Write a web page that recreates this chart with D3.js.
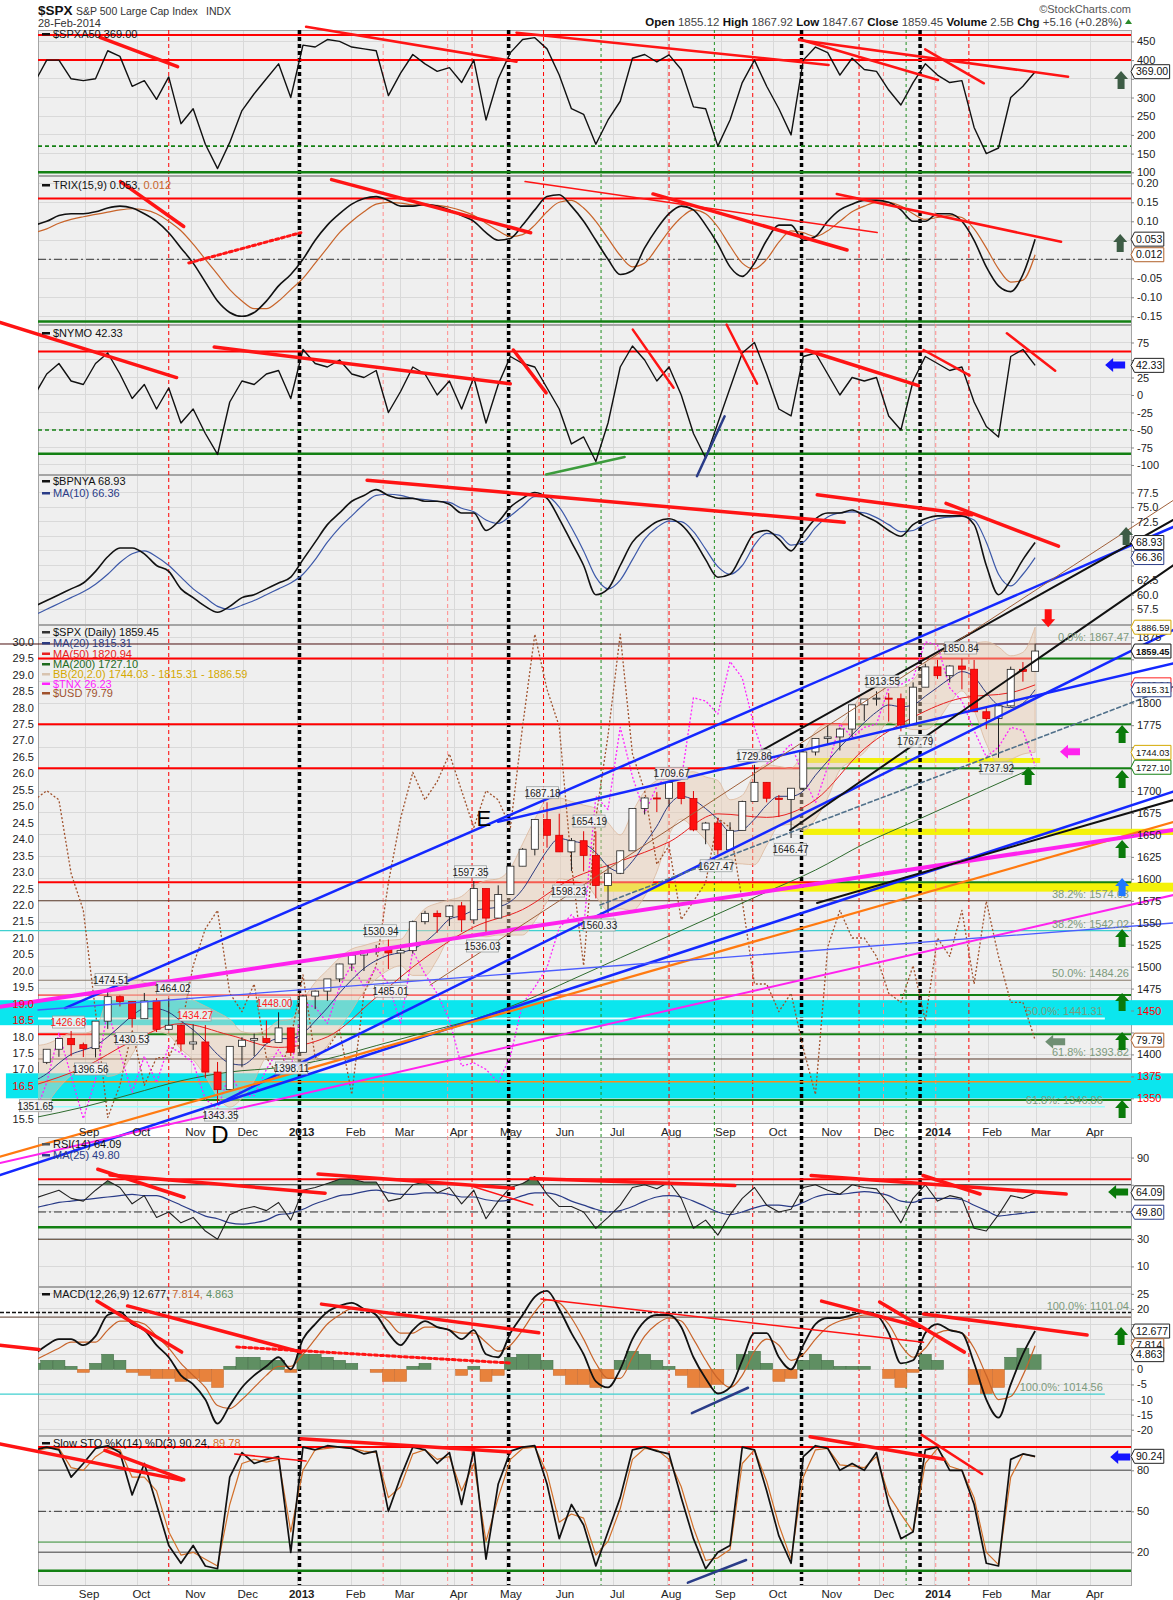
<!DOCTYPE html>
<html>
<head>
<meta charset="utf-8">
<script src="https://cdn.jsdelivr.net/npm/d3@7"></script>
<style>
  body { margin: 0; background: #fff; }
  svg text { font-family: "Liberation Sans", Arial, sans-serif; }
</style>
</head>
<body>
<svg id="drawing_region"></svg>
<script>
// ---------------- data (weekly readings, Aug 3 2012 .. Feb 28 2014) ----------------
const weekEnds = d3.timeFriday.range(new Date(2012, 7, 3), new Date(2014, 2, 1));

const spxa50 = [340,400,400,350,345,350,425,410,330,345,295,355,230,270,175,110,180,265,310,350,
  390,300,440,435,455,450,435,430,425,305,365,415,390,370,380,340,400,240,350,420,
  455,460,430,360,270,255,175,240,290,405,415,395,414,375,275,270,170,240,340,400,
  330,270,200,400,435,420,360,405,375,370,320,280,340,390,360,340,345,220,150,165,300,330,369];

const trix = [0.09,0.10,0.115,0.12,0.12,0.125,0.135,0.14,0.135,0.12,0.10,0.07,0.03,-0.01,-0.06,-0.11,-0.14,-0.15,-0.14,-0.11,
  -0.07,-0.04,0.0,0.05,0.09,0.12,0.145,0.16,0.165,0.155,0.14,0.14,0.145,0.14,0.13,0.115,0.10,0.07,0.05,0.055,
  0.09,0.13,0.165,0.17,0.14,0.10,0.05,0.0,-0.04,-0.03,0.03,0.08,0.12,0.14,0.13,0.09,0.04,-0.02,-0.045,-0.01,
  0.05,0.09,0.09,0.05,0.06,0.10,0.13,0.145,0.155,0.155,0.15,0.13,0.10,0.10,0.12,0.12,0.10,0.05,-0.02,-0.07,-0.085,-0.04,0.053];
const trixSignal = [0.07,0.08,0.095,0.105,0.112,0.118,0.124,0.13,0.133,0.13,0.12,0.10,0.075,0.04,0.0,-0.04,-0.08,-0.11,-0.13,-0.13,
  -0.11,-0.08,-0.05,-0.01,0.03,0.07,0.10,0.125,0.145,0.15,0.148,0.143,0.142,0.142,0.137,0.128,0.115,0.095,0.075,0.06,
  0.065,0.09,0.125,0.15,0.155,0.135,0.10,0.055,0.01,-0.02,-0.01,0.03,0.075,0.11,0.13,0.12,0.085,0.035,-0.01,-0.025,
  0.0,0.045,0.075,0.07,0.06,0.075,0.10,0.125,0.14,0.15,0.15,0.14,0.12,0.105,0.11,0.115,0.11,0.08,0.03,-0.025,-0.06,-0.055,0.012];

const nymo = [0,30,45,20,15,45,60,30,-5,15,-20,10,-40,-20,-55,-85,-10,20,15,30,
  35,-5,65,45,40,50,30,25,35,-25,5,40,30,0,20,-20,25,-40,15,55,
  45,40,10,-20,-70,-60,-95,-40,40,70,50,20,40,0,-55,-90,-40,10,60,75,
  30,-20,-30,55,60,30,0,25,20,25,-30,-50,20,55,45,35,40,-10,-45,-60,55,65,42.33];

const bpnya = [58,59,60,61,62,64,66.5,68,68,67,65,64,61,59.5,58,57,58,59.5,60,61,
  62,63,66,69,72,74,76,77,78,77,76.5,76.5,76,76,75.5,74,74,71,72.5,75,
  76.5,77.5,76.5,73,69,65,60,61,65,69,71,72.5,73,72,69.5,66,63,63.5,67,70.5,
  71,69.5,67.5,70.5,73,74,74,74.5,73.5,72.5,71,70,72,73,73.5,73.5,73.5,72,65,60,62.5,66,68.93];
const bpnyaMa = [56.5,57.5,58.5,59.5,60.5,61.8,63.5,65.5,67,67.5,66.5,65,63,61,59.5,58,57.5,58.2,59,60,
  61,62,63.5,66,69,71.5,73.5,75.5,77,77.2,77,76.5,76.3,76,75.8,74.8,74.2,72.8,72.2,73.5,
  75.2,76.8,76.8,75,71.5,67.5,63,61,62.5,66,69.5,71.5,72.6,72.5,70.8,67.8,64.8,63.5,65,68.5,
  70.5,70.2,68.5,69,71.5,73.3,74,74.2,74,73.2,72,70.8,71,72.2,73,73.3,73.4,72.8,69,63.5,61.5,63.5,66.36];

const spxOpen = [1379.3,1391.0,1405.9,1418.2,1411.1,1406.6,1437.9,1465.8,1460.2,1440.7,
  1460.9,1428.6,1433.2,1411.9,1414.2,1379.9,1359.9,1409.2,1416.2,1418.1,
  1413.6,1430.2,1402.4,1466.5,1472.1,1486.0,1503.0,1513.2,1517.9,1519.8,
  1515.6,1518.2,1551.2,1560.7,1556.9,1569.2,1553.3,1588.9,1555.3,1582.2,
  1614.4,1633.7,1667.5,1649.6,1630.7,1643.4,1626.7,1592.4,1606.3,1631.9,
  1680.2,1692.1,1691.7,1709.7,1691.4,1655.8,1663.5,1633.0,1655.2,1688.0,
  1709.9,1691.8,1690.5,1703.2,1744.5,1759.8,1761.6,1770.6,1798.2,1804.8,
  1805.8,1805.1,1775.3,1818.3,1841.4,1831.4,1842.4,1838.7,1790.3,1782.6,1797.0,1838.6,1836.3];
const spxHigh = [1394.2,1405.9,1418.7,1426.7,1413.5,1437.9,1474.5,1467.1,1460.2,1470.0,
  1464.0,1464.0,1434.0,1434.3,1433.4,1391.4,1409.2,1419.7,1423.7,1438.6,
  1448.0,1430.7,1467.9,1472.8,1485.2,1503.3,1514.4,1518.3,1524.7,1530.9,
  1525.3,1552.5,1563.6,1564.0,1570.3,1573.7,1597.4,1589.0,1592.6,1618.5,
  1635.0,1667.5,1687.2,1674.2,1646.5,1654.2,1654.2,1615.9,1632.1,1680.2,
  1693.1,1698.8,1709.7,1709.7,1700.0,1664.8,1669.5,1664.4,1689.0,1729.9,
  1710.1,1695.5,1703.4,1745.3,1759.8,1775.2,1772.3,1798.2,1804.8,1813.6,
  1811.5,1811.0,1823.8,1844.9,1849.4,1843.2,1850.8,1849.3,1795.0,1798.0,1841.7,1846.9,1867.9];
const spxLow = [1354.7,1389.0,1397.3,1398.0,1397.0,1396.6,1429.1,1454.7,1430.5,1440.7,
  1425.5,1427.2,1403.3,1405.1,1373.0,1343.4,1359.9,1385.4,1398.1,1412.7,
  1413.6,1398.1,1402.4,1451.6,1461.0,1482.3,1495.0,1495.0,1513.5,1497.3,
  1485.0,1514.8,1548.2,1538.6,1546.2,1539.5,1548.6,1536.0,1555.3,1582.2,
  1614.4,1626.7,1635.5,1630.5,1608.9,1608.5,1577.7,1560.3,1605.4,1631.9,
  1673.3,1676.0,1681.9,1684.9,1654.2,1639.4,1627.5,1633.0,1655.2,1688.0,
  1687.1,1670.4,1646.5,1700.7,1740.5,1752.7,1746.2,1761.6,1780.0,1797.3,
  1779.1,1768.0,1775.3,1818.3,1827.7,1823.7,1815.8,1790.3,1770.5,1737.9,1796.0,1824.6,1836.3];
const spxClose = [1391.0,1405.9,1418.2,1411.1,1406.6,1437.9,1465.8,1460.2,1440.7,1460.9,
  1428.6,1433.2,1411.9,1414.2,1379.9,1359.9,1409.2,1416.2,1418.1,1413.6,
  1430.2,1402.4,1466.5,1472.1,1486.0,1503.0,1513.2,1517.9,1519.8,1515.6,
  1518.2,1551.2,1560.7,1556.9,1569.2,1553.3,1588.9,1555.3,1582.2,1614.4,
  1633.7,1667.5,1649.6,1630.7,1643.4,1626.7,1592.4,1606.3,1631.9,1680.2,
  1692.1,1691.7,1709.7,1691.4,1655.8,1663.5,1633.0,1655.2,1688.0,1709.9,
  1691.8,1690.5,1703.2,1744.5,1759.8,1761.6,1770.6,1798.2,1804.8,1805.8,
  1805.1,1775.3,1818.3,1841.4,1831.4,1842.4,1838.7,1790.3,1782.6,1797.0,1838.6,1836.3,1859.45];

const ma20 = [1370,1378,1390,1400,1405,1410,1420,1432,1444,1452,1452,1448,1438,1428,1415,1400,1390,1388,1397,1412,
  1418,1418,1424,1438,1453,1470,1485,1498,1507,1513,1516,1520,1528,1540,1554,1558,1564,1566,1568,1574,
  1588,1610,1632,1646,1643,1640,1630,1614,1608,1620,1640,1660,1684,1694,1690,1680,1668,1654,1656,1668,
  1684,1694,1694,1700,1718,1734,1750,1764,1778,1790,1798,1796,1798,1808,1818,1828,1836,1830,1812,1798,1795,1800,1815.31];
const bbUpper = [1410,1412,1418,1424,1424,1430,1465,1485,1488,1482,1478,1474,1470,1462,1455,1448,1440,1426,1424,1428,
  1438,1440,1462,1482,1496,1510,1520,1524,1528,1530,1531,1550,1566,1572,1576,1580,1592,1598,1600,1612,
  1640,1668,1690,1692,1688,1684,1680,1664,1650,1676,1700,1712,1718,1720,1722,1716,1712,1690,1695,1720,
  1730,1728,1726,1745,1768,1776,1776,1794,1812,1818,1818,1818,1826,1846,1856,1856,1858,1868,1870,1864,1854,1858,1886.59];
const bbLower = [1330,1344,1362,1376,1386,1390,1375,1379,1400,1422,1426,1422,1406,1394,1375,1352,1340,1350,1370,1396,
  1398,1396,1386,1394,1410,1430,1450,1472,1486,1496,1501,1490,1490,1508,1532,1536,1536,1534,1536,1536,
  1536,1552,1574,1600,1598,1596,1580,1564,1566,1564,1580,1608,1650,1668,1658,1644,1624,1618,1617,1616,
  1638,1660,1662,1655,1668,1692,1724,1734,1744,1762,1778,1774,1770,1770,1780,1800,1814,1792,1754,1732,1736,1742,1744.03];
// slow averages, read every 4th week
const maWeekIdx = [0,4,8,12,16,20,24,28,32,36,40,44,48,52,56,60,64,68,72,76,80,82];
const ma50 = [1365,1385,1415,1435,1422,1408,1420,1465,1510,1545,1565,1600,1620,1642,1674,1670,1690,1748,1784,1806,1812,1820.94];
const ma200 = [1328,1340,1355,1370,1380,1385,1395,1410,1425,1440,1460,1485,1510,1535,1560,1585,1610,1640,1665,1690,1715,1727.10];

const tnx = [15.6,16.6,18.1,16.8,15.5,16.7,18.8,17.5,16.3,17.4,16.6,17.7,17.5,17.2,16.1,15.8,16.9,16.2,16.2,17.0,
  17.6,17.0,19.0,18.9,18.4,19.5,20.2,19.5,20.1,19.6,18.4,20.6,19.9,19.3,18.5,17.1,17.2,17.0,16.6,17.4,
  19.0,19.5,20.1,21.3,21.7,21.3,25.3,24.9,27.4,25.9,24.8,25.6,26.0,25.8,28.3,28.2,27.8,29.4,28.9,27.4,
  26.3,26.5,26.9,25.9,25.1,26.2,27.5,27.1,27.4,27.5,28.6,28.7,28.9,30.0,29.9,28.6,28.2,27.3,26.5,26.8,27.4,27.3,26.23];
const usd = [82.4,82.5,82.4,81.6,81.2,80.1,78.95,79.3,79.9,79.3,79.6,79.6,79.9,80.6,81.0,81.2,80.3,80.1,80.4,79.6,
  79.4,79.8,80.5,79.6,79.7,79.9,79.2,80.3,80.6,81.5,82.2,82.7,82.4,82.6,82.9,82.5,82.1,82.5,82.4,82.1,
  83.2,84.2,83.6,83.2,81.7,80.6,82.2,83.1,84.2,82.9,82.5,81.7,81.9,81.1,81.3,81.5,82.2,82.1,81.3,80.4,
  80.4,80.1,80.3,79.7,79.2,80.8,81.2,80.9,80.9,80.7,80.3,80.2,80.6,80.0,80.9,80.7,81.2,80.4,81.3,80.7,80.2,80.2,79.79];

const rsi = [60,63,66,60,58,66,73,68,56,62,46,50,42,46,36,30,48,52,54,51,
  57,44,66,68,71,74,74,72,72,58,60,70,72,64,68,56,66,45,58,68,
  71,76,63,54,54,50,38,46,55,68,70,67,72,60,38,44,33,48,60,68,
  55,50,52,68,70,66,63,70,68,67,56,42,60,70,58,62,60,38,36,48,62,60,64.09];
const rsiMa = [53,55,57,58,59,60,61,62,63,62,62,59,55,51,47,45,42,41,42,44,
  48,49,52,56,59,62,63,65,66,64,63,63,64,64,63,61,61,59,58,59,
  62,64,64,62,58,55,52,50,51,54,58,61,62,61,58,54,50,48,50,53,
  55,55,54,57,61,63,63,64,65,64,62,58,57,60,60,60,59,55,51,47,48,49,49.8];

const macd = [5,8,10,10,8,11,18,19,15,13,8,4,-2,-5,-10,-18,-12,-6,-2,1,
  4,0,10,15,19,21,22,20,18,12,8,13,16,14,13,10,13,5,4,12,
  18,24,26,20,12,5,-4,-6,0,10,16,18,18,14,4,-3,-8,-6,3,12,
  12,4,0,8,15,17,17,18,19,18,12,2,3,12,15,13,12,2,-10,-16,-5,5,12.677];
const macdSignal = [3,5,7,9,9,9,13,16,16,15,11,7,2,-2,-6,-12,-13,-10,-6,-2,
  1,1,5,10,15,18,20,20,19,16,12,12,14,14,13,12,12,9,6,8,
  13,19,23,22,17,10,2,-3,-3,4,11,15,17,16,10,3,-3,-6,-2,6,
  10,8,3,5,10,14,16,17,18,18,15,8,4,7,12,13,12,7,-2,-10,-9,-2,7.814];
const macdHist = [2,3,3,1,-1,2,5,3,-1,-2,-3,-3,-4,-3,-4,-6,1,4,4,3,
  3,-1,5,5,4,3,2,0,-1,-4,-4,1,2,0,0,-2,1,-4,-2,4,
  5,5,3,-2,-5,-5,-6,-3,3,6,5,3,1,-2,-6,-6,-5,0,5,6,
  2,-4,-3,3,5,3,1,1,1,0,-3,-6,-1,5,3,0,0,-5,-8,-6,4,7,4.863];

const stoK = [95,97,95,75,85,96,98,93,62,85,55,25,12,25,10,8,75,93,85,88,
  90,20,97,95,98,97,96,92,94,50,75,97,95,85,93,55,95,15,70,94,
  97,98,70,30,55,40,10,35,60,95,97,94,92,60,30,8,20,25,97,95,
  65,32,12,90,98,96,80,85,80,93,55,30,35,95,97,80,80,55,12,10,88,92,90.24];
const stoD = [94,96,96,82,80,90,96,95,75,75,65,35,18,20,15,10,55,85,88,86,
  88,35,80,95,96,97,96,94,93,60,68,92,95,88,90,65,85,28,60,88,
  96,97,78,42,48,45,18,28,52,88,96,95,88,68,38,14,16,22,85,95,
  72,40,15,75,95,96,84,83,82,90,62,48,35,85,96,83,80,60,20,11,75,92,89.78];

// tick labels
const a50Ticks = [100,150,200,250,300,350,400,450];
const trixTicks = [-0.15,-0.10,-0.05,0,0.05,0.10,0.15,0.20];
const nymoTicks = [-100,-75,-50,-25,0,25,50,75];
const bpTicks = [57.5,60,62.5,65,67.5,70,72.5,75,77.5];
const spxTicks = d3.range(1350, 1876, 25);
const tnxTicks = d3.range(15.5, 30.01, 0.5);
const rsiTicks = [10,30,50,70,90];
const macdTicks = [-20,-15,-10,-5,0,5,10,15,20,25];
const stoTicks = [20,50,80];
const monthLabels = ["Sep","Oct","Nov","Dec","2013","Feb","Mar","Apr","May","Jun","Jul","Aug",
  "Sep","Oct","Nov","Dec","2014","Feb","Mar","Apr"];

// vertical markers
const eventDates = ["2012-10-19","2013-01-02","2013-02-19","2013-03-28","2013-04-11","2013-05-02","2013-05-22",
  "2013-06-24","2013-08-02","2013-08-28","2013-09-19","2013-10-17","2013-11-19","2013-12-03","2013-12-16",
  "2013-12-24","2014-01-02","2014-01-21"];
const eventKinds = ["red","black","lightred","lightred","red","black","red","green","red","green","red",
  "black","red","lightred","green","black","lightred","red"];

// drawn trend lines: [kind, day0, value0, day1, value1]  (day = days since 2012-08-05)
const a50Trends = [["redThick",35.6,461,80.1,382.4],["red",153.8,489,274.5,395.7],["red",274.5,473.3,453.5,386.9],
  ["red",436.6,455.6,516.3,346.8],["red",436.6,453.7,590.9,355.6],["red",508.9,428.9,542.6,338]];
const trixTrends = [["redThick",47.3,0.2045,83.6,0.0863],["redDot",86.5,-0.0097,150.8,0.07],["redThick",168.4,0.2097,282.6,0.07],
  ["redThick",352.8,0.172,464.1,0.0245],["redThin",279.4,0.2045,481.4,0.0703],["red",458.2,0.172,586.9,0.046]];
const nymoTrends = [["redThick",-21.8,103.7,79.5,24.9],["redThick",101.1,68.6,270.9,16.1],["redThick",272.7,64.3,291.5,3],
  ["red",341.2,93.4,364.6,10.3],["red",395,100.7,412.5,16.1],["redThick",440.6,64.3,505.1,13.3],
  ["red",508,64.3,534.4,27.9],["red",555.8,88.1,583.5,34.7],["green",291.5,-113.6,336.5,-88.7],["navy",378,-116,393.9,-30.4]];
const bpTrends = [["redThick",188.8,79.6,462.5,72.4],["redThick",447,77.1,535.6,73.7],["redThick",520.9,75.65,585.4,68.3]];
const spxTrends = [["blue",15.5,1452.8,651.2,2000.7],["blue",263.9,1665,651.2,1845.4],["blue",104.4,1344.6,651.2,1883.4],
  ["blue",-21.8,1262.6,651.2,1699.2],["orange",-21.8,1283.5,651.2,1664.7],["magenta",-21.8,1276.3,651.2,1581.5],
  ["magentaThick",-21.8,1454.3,651.2,1655.6],["black",408.5,1738.7,651.2,2008.7],["black",431.4,1655.3,651.2,1957.1],
  ["black",446.9,1572.4,651.2,1689.7],["brown",224.9,1479,651.2,2031],["steelDash",322.4,1570.2,651.2,1818.8],
  ["blueThin",0,1450.6,651.2,1549.7]];
const rsiTrends = [["redThick",34.3,81.4,83.8,60.8],["redThick",41.3,77.2,164.7,63.8],["redThick",160.6,77.9,272.7,67.4],
  ["redThin",248.6,69.1,283.8,55.1],["redThick",282.6,74.6,399.7,69.4],["redThick",443.5,76.8,589.8,63.2],
  ["redThick",507.7,76.8,540.4,63.2]];
const macdTrends = [["redThick",-21.8,8.0,0.5,6.6],["redThick",33.8,22.6,82.4,5.7],["redThick",51.4,21,150.9,5.7],
  ["redDot",114,7.4,270.9,2.1],["redThick",162.6,21.6,287.3,12.1],["redThin",288.5,23.3,508,9.0],
  ["redThick",449.5,22.6,505.1,14.2],["redThick",482.8,22.3,531.4,5.7],["redThick",508,18.3,601.8,11.4],
  ["navy",375.1,-14.5,407.3,-6.1]];
const stoTrends = [["redThick",-21.8,99.2,82.4,72.8],["redThick",38.4,94.6,83.6,73.2],["redThick",150.9,103,270.9,93.4],
  ["redThin",112.8,91.9,153.8,86.8],["redThick",442.9,104.6,519.6,88.1],["red",506.9,105.9,541.6,77.3],
  ["navy",372.8,-2.2,406.2,14.4]];

// horizontal levels: [value, kind, day0, day1]
const a50Levels = [[467,"hRed"],[400,"hRed"],[170,"hGreenDash"],[100,"hGreenThick"]];
const trixLevels = [[0.16,"hRed"],[0,"hDashDot"],[-0.164,"hGreenThick"]];
const nymoLevels = [[62,"hRed"],[-50,"hGreenDash"],[-84,"hGreenThick"]];
const spxLevels = [[1867.47,"hMaroon",-21.8,627],[1851,"hRed",0,573.7],[1851,"hGreen",573.7,627],
  [1776,"hRed",0,468.2],[1776,"hGreen",468.2,627],[1726,"hRed",0,441],[1726,"hGreen",441,627],
  [1596,"hRed",0,454.4],[1596,"hGreen",454.4,627],[1575,"hBrown",0,627],[1541,"hCyan",-21.8,627],
  [1484.5,"hGrayBrown",0,627],[1467.6,"hRedThin",0,494.5],[1467.6,"hGreen",494.5,627],[1441,"hWhite",0,612],
  [1423,"hRed",0,34.4],[1423,"hGreen",34.4,627],[1394.8,"hBrown",0,627],[1369,"hOrange",0,627],
  [1348,"hGreen",0,627],[1340.4,"hLightCyan",0,612]];
const rsiLevels = [[74,"hRed"],[70,"hBlack"],[50,"hDashDot"],[38.7,"hGreenThick"],[30,"hBlack"]];
const macdLevels = [[18.8,"hBlackDash",-21.8,627],[17.3,"hBrown",-21.8,627],[-8.2,"hCyan",-21.8,612]];
const stoLevels = [[97,"hRed"],[80,"hGray"],[50,"hDashDot"],[27.5,"hGreenThin"],[20,"hGray"],[6.5,"hGreenThick"]];

// shaded zones in the price panel: [low, high, day0, day1]
const cyanZones = [[1433.3,1461.8,-21.8,651.2],[1350,1378.5,-18.4,651.2]];
const yellowZones = [[1732,1737.6,438.9,574.9],[1650,1657,438.9,651.2],[1585.4,1595.6,324.7,651.2]];

// fibonacci notes: [day (right end), value, text]
const spxFibNotes = [[627,1867.47,"0.0%: 1867.47"],[627,1575,"38.2%: 1574.63"],[627,1541,"38.2%: 1542.02"],
  [627,1484.5,"50.0%: 1484.26"],[612,1441,"50.0%: 1441.31"],[627,1394.8,"61.8%: 1393.82"],[612,1340.4,"61.8%: 1346.86"]];
const macdFibNotes = [[627,18.8,"100.0%: 1101.04"],[612,-8.2,"100.0%: 1014.56"]];

// price annotations: [day, price, text, kind]
const priceNotes = [[41.9,1485.3,"1474.51","box"],[77.2,1475.6,"1464.02","box"],[17.5,1436.9,"1426.68","red"],
  [90.1,1444.9,"1434.27","red"],[53.6,1418.1,"1430.53","box"],[30.1,1383.4,"1396.56","box"],[-1.4,1341.6,"1351.65","box"],
  [104.7,1331,"1343.35","box"],[135.7,1458.5,"1448.00","red"],[145.4,1384.5,"1398.11","box"],[202.2,1471.9,"1485.01","box"],
  [196.5,1540.9,"1530.94","box"],[255,1523.5,"1536.03","box"],[248.1,1608.1,"1597.35","box"],[304.4,1586.1,"1598.23","box"],
  [321.9,1547.4,"1560.33","box"],[289.4,1698.1,"1687.18","box"],[316.1,1665.8,"1654.19","box"],[363.5,1720.2,"1709.67","box"],
  [410.8,1740.2,"1729.86","box"],[389,1614.9,"1627.47","box"],[431.7,1633.6,"1646.47","box"],[484.2,1825,"1813.55","box"],
  [503.2,1756.6,"1767.79","box"],[529.3,1862.9,"1850.84","box"],[549.6,1726.2,"1737.92","box"]];

// arrows: [panel, day, value, kind]
const arrowMarks = [["a50",621.3,346.8,"dkGreenUp"],["trix",620.8,0.043,"dkGreenUp"],["nymo",617.9,42.9,"blueLeft"],
  ["bp",624.2,70.05,"dkGreenUp"],["spx",579.5,1896.9,"redDown"],["spx",621.9,1764.9,"greenUp"],["spx",621.9,1713.7,"greenUp"],
  ["spx",621.9,1633.9,"greenUp"],["spx",621.9,1590.8,"blueUp"],["spx",621.9,1532.5,"greenUp"],["spx",621.9,1459.7,"greenUp"],
  ["spx",621.9,1415.3,"greenUp"],["spx",621.9,1337.8,"greenUp"],["spx",568,1717.1,"greenUp"],["spx",592,1744.8,"magentaLeft"],
  ["spx",583.5,1414.5,"grayLeft"],["rsi",619.6,64.7,"greenLeft"],["macd",621.3,11.02,"greenUp"],["sto",620.8,89.8,"blueLeft"]];

// last-value tags on the right axis: [panel, value, text, kind]
const valueTags = [["a50",369,"369.00","black"],["trix",0.053,"0.053","black"],["trix",0.012,"0.012","brown"],
  ["nymo",42.33,"42.33","black"],["bp",68.93,"68.93","black"],["bp",66.36,"66.36","navy"],
  ["spx",1886.59,"1886.59","gold"],["spx",1820.94,"1820.94","red"],["spx",1815.31,"1815.31","navy"],
  ["spx",1744.03,"1744.03","gold"],["spx",1727.10,"1727.10","green"],["spx",1859.45,"1859.45","bold"],
  ["rsi",64.09,"64.09","black"],["rsi",49.80,"49.80","navy"],["macd",12.677,"12.677","black"],
  ["macd",7.814,"7.814","brown"],["macd",4.863,"4.863","black"],["sto",90.24,"90.24","black"]];

// ---------------- drawing ----------------
const W = 1173, H = 1600, X0 = 38, X1 = 1131;
const startDay = new Date(2012, 7, 5);
const parse = d3.timeParse("%Y-%m-%d");
const dayOf = d => d3.timeDay.count(startDay, d);
const x = d3.scaleLinear().domain([0, 627]).range([X0, X1]);
const wDay = weekEnds.map(dayOf);
const maDay = maWeekIdx.map(i => wDay[i]);

const panels = {
  a50:  {top: 30,   bottom: 175,  domain: [92.8, 480.5],     ticks: a50Ticks,  fmt: d => String(d)},
  trix: {top: 176,  bottom: 324,  domain: [-0.1703, 0.2192], ticks: trixTicks, fmt: d => d.toFixed(2)},
  nymo: {top: 325,  bottom: 474,  domain: [-112.9, 100],     ticks: nymoTicks, fmt: d => String(d)},
  bp:   {top: 475,  bottom: 624,  domain: [54.98, 80.5],     ticks: bpTicks,   fmt: d => d.toFixed(1)},
  spx:  {top: 625,  bottom: 1123, domain: [1321.9, 1889.1],  ticks: spxTicks,  fmt: d => String(d)},
  rsi:  {top: 1137, bottom: 1286, domain: [-4.4, 105.1],     ticks: rsiTicks,  fmt: d => String(d)},
  macd: {top: 1287, bottom: 1435, domain: [-21.75, 27.27],   ticks: macdTicks, fmt: d => String(d)},
  sto:  {top: 1436, bottom: 1585, domain: [-3.9, 105.1],     ticks: stoTicks,  fmt: d => String(d)}
};
const tnxY = d3.scaleLinear().domain([15.37, 30.51]).range([1123, 625]);
const usdY = d3.scaleLinear().domain([78.89, 84.30]).range([1123, 625]);

const styles = {
  redThick: {c: "#ff1414", w: 3.5}, red: {c: "#ff1414", w: 2.5}, redThin: {c: "#ff1414", w: 1.5},
  redDot: {c: "#ff1414", w: 3, d: "3,3"}, blue: {c: "#1428ff", w: 2.5}, blueThin: {c: "#4a5cff", w: 1.3},
  navy: {c: "#2a3c88", w: 2.5}, green: {c: "#3c9c3c", w: 2.5}, black: {c: "#111", w: 2},
  orange: {c: "#ff7a10", w: 2.2}, magenta: {c: "#ff22ee", w: 2}, magentaThick: {c: "#ff22ee", w: 4},
  brown: {c: "#a0603a", w: 1}, steelDash: {c: "#50708a", w: 1.6, d: "4,3"},
  hRed: {c: "#ff0000", w: 2}, hRedThin: {c: "#ff0000", w: 1}, hGreen: {c: "#138013", w: 2},
  hGreenThick: {c: "#138013", w: 2.5}, hGreenThin: {c: "#2e8b2e", w: 1}, hGreenDash: {c: "#138013", w: 1.6, d: "4,3"},
  hDashDot: {c: "#333", w: 1, d: "8,3,2,3"}, hBlack: {c: "#222", w: 1}, hGray: {c: "#777", w: 1.5},
  hMaroon: {c: "#4a1010", w: 1}, hBrown: {c: "#5a3a2a", w: 1}, hCyan: {c: "#40d0d0", w: 1.2},
  hGrayBrown: {c: "#8a7a6a", w: 1}, hWhite: {c: "#e8ffff", w: 2}, hOrange: {c: "#ff8c1a", w: 1.5},
  hLightCyan: {c: "#99ffff", w: 1.5}, hBlackDash: {c: "#111", w: 1.5, d: "4,2"}
};
const eventStyles = {
  red: {c: "#ff0000", w: 1, d: "4,3"}, lightred: {c: "#ff8a8a", w: 1, d: "4,3"},
  green: {c: "#1f8f1f", w: 1, d: "3,3"}, black: {c: "#000", w: 3.5, d: "4,3"}
};
const tagColors = {black: "#222", brown: "#b0602a", navy: "#2a3c88", gold: "#d4a800", red: "#ff2020", green: "#138013", bold: "#111"};
const arrowColors = {dkGreenUp: "#3d5c45", greenUp: "#0a7a0a", blueUp: "#1e78ff", redDown: "#ff1010",
  blueLeft: "#1414ff", greenLeft: "#0a7a0a", magentaLeft: "#ff22ee", grayLeft: "#6f8f73"};

const svg = d3.select("#drawing_region").attr("width", W).attr("height", H);
const defs = svg.append("defs");
const layer = {};
["bg", "zones", "events", "levels", "series", "trends", "labels"].forEach(k => layer[k] = svg.append("g"));

const monthStarts = d3.timeMonth.range(new Date(2012, 8, 1), new Date(2014, 4, 1));

// panels: background, grid, clip
Object.entries(panels).forEach(([id, p]) => {
  p.y = d3.scaleLinear().domain(p.domain).range([p.bottom, p.top]);
  defs.append("clipPath").attr("id", "clip-" + id).append("rect")
    .attr("x", X0).attr("y", p.top).attr("width", X1 - X0).attr("height", p.bottom - p.top);
  const g = layer.bg.append("g").attr("shape-rendering", "crispEdges");
  g.append("rect").attr("x", X0).attr("y", p.top).attr("width", X1 - X0).attr("height", p.bottom - p.top)
    .attr("fill", "#efefef");
  g.selectAll(".hg").data(p.ticks).join("line")
    .attr("x1", X0).attr("x2", X1).attr("y1", d => p.y(d)).attr("y2", d => p.y(d))
    .attr("stroke", "#d9d9d9");
  g.selectAll(".vg").data(monthStarts).join("line")
    .attr("x1", d => x(dayOf(d))).attr("x2", d => x(dayOf(d)))
    .attr("y1", p.top).attr("y2", p.bottom).attr("stroke", "#d9d9d9");
  g.append("rect").attr("x", X0).attr("y", p.top).attr("width", X1 - X0).attr("height", p.bottom - p.top)
    .attr("fill", "none").attr("stroke", "#a4a4a4");
});

// zones
const spxY = panels.spx.y;
layer.zones.selectAll(".cz").data(cyanZones).join("rect")
  .attr("x", d => x(d[2])).attr("width", d => x(d[3]) - x(d[2]))
  .attr("y", d => spxY(d[1])).attr("height", d => spxY(d[0]) - spxY(d[1])).attr("fill", "#0be6ee");
layer.zones.selectAll(".yz").data(yellowZones).join("rect")
  .attr("x", d => x(d[2])).attr("width", d => x(d[3]) - x(d[2]))
  .attr("y", d => spxY(d[1])).attr("height", d => spxY(d[0]) - spxY(d[1])).attr("fill", "#f4f20a");

// vertical markers
layer.events.selectAll("line").data(eventDates).join("line")
  .attr("x1", d => x(dayOf(parse(d)))).attr("x2", d => x(dayOf(parse(d))))
  .attr("y1", 30).attr("y2", 1585)
  .attr("stroke", (d, i) => eventStyles[eventKinds[i]].c)
  .attr("stroke-width", (d, i) => eventStyles[eventKinds[i]].w)
  .attr("stroke-dasharray", (d, i) => eventStyles[eventKinds[i]].d);

// horizontal levels
function drawLevels(pid, levels) {
  const y = panels[pid].y;
  layer.levels.append("g").selectAll("line").data(levels).join("line")
    .attr("x1", d => x(d[2] === undefined ? 0 : d[2])).attr("x2", d => x(d[3] === undefined ? 627 : d[3]))
    .attr("y1", d => y(d[0])).attr("y2", d => y(d[0]))
    .attr("stroke", d => styles[d[1]].c).attr("stroke-width", d => styles[d[1]].w)
    .attr("stroke-dasharray", d => styles[d[1]].d || null);
}
drawLevels("a50", a50Levels); drawLevels("trix", trixLevels); drawLevels("nymo", nymoLevels);
drawLevels("spx", spxLevels); drawLevels("rsi", rsiLevels); drawLevels("macd", macdLevels); drawLevels("sto", stoLevels);

// series helpers
function seriesLine(pid, values, color, width, opts = {}) {
  const yS = opts.scale || panels[pid].y;
  const days = opts.days || wDay;
  const line = d3.line().x((d, i) => x(days[i])).y(d => yS(d));
  if (opts.smooth) line.curve(d3.curveMonotoneX);
  layer.series.append("path").attr("clip-path", `url(#clip-${pid})`)
    .attr("d", line(values)).attr("fill", "none").attr("stroke", color).attr("stroke-width", width)
    .attr("stroke-dasharray", opts.dash || null).attr("stroke-linejoin", "round");
}

seriesLine("a50", spxa50, "#111", 1.4);
seriesLine("trix", trixSignal, "#c8642a", 1.2, {smooth: true});
seriesLine("trix", trix, "#111", 1.6, {smooth: true});
seriesLine("nymo", nymo, "#111", 1.4);
seriesLine("bp", bpnyaMa, "#3c58a8", 1.2, {smooth: true});
seriesLine("bp", bpnya, "#111", 1.6, {smooth: true});

// price panel
const bbArea = d3.area().x((d, i) => x(wDay[i])).y0((d, i) => spxY(bbLower[i])).y1(d => spxY(d)).curve(d3.curveMonotoneX);
layer.series.append("path").attr("clip-path", "url(#clip-spx)").attr("d", bbArea(bbUpper))
  .attr("fill", "#e9c9b0").attr("fill-opacity", 0.45).attr("stroke", "#dcb89c").attr("stroke-width", 0.8);
seriesLine("spx", usd, "#a0522d", 1.3, {scale: usdY, dash: "2,2"});
seriesLine("spx", tnx, "#ff22ff", 1.3, {scale: tnxY, dash: "2,2"});
seriesLine("spx", ma200, "#2e6b2e", 1, {days: maDay, smooth: true});
seriesLine("spx", ma50, "#e82020", 1, {days: maDay, smooth: true});
seriesLine("spx", ma20, "#2b3a80", 1, {smooth: true});

const candles = layer.series.append("g").attr("clip-path", "url(#clip-spx)");
const isUp = i => spxClose[i] >= spxOpen[i];
candles.selectAll("line").data(spxHigh).join("line")
  .attr("x1", (d, i) => x(wDay[i])).attr("x2", (d, i) => x(wDay[i]))
  .attr("y1", d => spxY(d)).attr("y2", (d, i) => spxY(spxLow[i]))
  .attr("stroke", (d, i) => isUp(i) ? "#222" : "#e00000");
candles.selectAll("rect").data(spxClose).join("rect")
  .attr("x", (d, i) => x(wDay[i]) - 3.5).attr("width", 7)
  .attr("y", (d, i) => spxY(Math.max(d, spxOpen[i])))
  .attr("height", (d, i) => Math.max(1, Math.abs(spxY(d) - spxY(spxOpen[i]))))
  .attr("fill", (d, i) => isUp(i) ? "#fff" : "#ff1010")
  .attr("stroke", (d, i) => isUp(i) ? "#222" : "#d00000").attr("stroke-width", 0.8);

// RSI with zone fills
const rsiY = panels.rsi.y;
defs.append("clipPath").attr("id", "rsi-hi").append("rect").attr("x", X0).attr("y", panels.rsi.top)
  .attr("width", X1 - X0).attr("height", rsiY(70) - panels.rsi.top);
defs.append("clipPath").attr("id", "rsi-lo").append("rect").attr("x", X0).attr("y", rsiY(30))
  .attr("width", X1 - X0).attr("height", panels.rsi.bottom - rsiY(30));
const rsiHi = d3.area().x((d, i) => x(wDay[i])).y0(rsiY(70)).y1(d => rsiY(d));
const rsiLo = d3.area().x((d, i) => x(wDay[i])).y0(rsiY(30)).y1(d => rsiY(d));
layer.series.append("path").attr("clip-path", "url(#rsi-hi)").attr("d", rsiHi(rsi)).attr("fill", "#4f7d55");
layer.series.append("path").attr("clip-path", "url(#rsi-lo)").attr("d", rsiLo(rsi)).attr("fill", "#f08a30");
seriesLine("rsi", rsiMa, "#2a3c88", 1.2, {smooth: true});
seriesLine("rsi", rsi, "#222", 1.1);

// MACD
const macdY = panels.macd.y;
layer.series.append("g").attr("clip-path", "url(#clip-macd)").selectAll("rect").data(macdHist).join("rect")
  .attr("x", (d, i) => x(wDay[i]) - 6).attr("width", 12)
  .attr("y", d => Math.min(macdY(d), macdY(0))).attr("height", d => Math.abs(macdY(d) - macdY(0)))
  .attr("fill", d => d >= 0 ? "#5f8f62" : "#e8823c").attr("stroke", d => d >= 0 ? "#3f6a42" : "#c4662a")
  .attr("stroke-width", 0.5);
seriesLine("macd", macdSignal, "#c8642a", 1.2, {smooth: true});
seriesLine("macd", macd, "#111", 1.8, {smooth: true});

// Stochastics
seriesLine("sto", stoD, "#d2702a", 1.2);
seriesLine("sto", stoK, "#111", 1.7);

// trend lines
function drawTrends(pid, list) {
  const y = panels[pid].y;
  layer.trends.append("g").selectAll("line").data(list).join("line")
    .attr("x1", d => x(d[1])).attr("y1", d => y(d[2])).attr("x2", d => x(d[3])).attr("y2", d => y(d[4]))
    .attr("stroke", d => styles[d[0]].c).attr("stroke-width", d => styles[d[0]].w)
    .attr("stroke-dasharray", d => styles[d[0]].d || null).attr("stroke-linecap", "round");
}
drawTrends("a50", a50Trends); drawTrends("trix", trixTrends); drawTrends("nymo", nymoTrends);
drawTrends("bp", bpTrends); drawTrends("spx", spxTrends); drawTrends("rsi", rsiTrends);
drawTrends("macd", macdTrends); drawTrends("sto", stoTrends);

// ---------------- labels ----------------
const L = layer.labels;
const inCyan = yPix => cyanZones.some(z => yPix >= spxY(z[1]) && yPix <= spxY(z[0]));
// pixel rows covered by right-axis tags, per panel (labels under a tag are hidden, as in the source)
const tagRows = {};
valueTags.forEach(t => (tagRows[t[0]] = tagRows[t[0]] || []).push(panels[t[0]].y(t[1])));
tagRows.spx.push(usdY(usd[usd.length - 1]));
const covered = (id, yPix) => (tagRows[id] || []).some(r => Math.abs(r - yPix) < 9);
// left-axis rows hidden behind price notes that sit over the left margin
const leftCovered = yPix => priceNotes.some(n => x(n[0]) - 16 < X0 && Math.abs(spxY(n[1]) - yPix) < 9);

Object.entries(panels).forEach(([id, p]) => {
  const ax = L.append("g").attr("transform", `translate(${X1},0)`)
    .call(d3.axisRight(p.y).tickValues(p.ticks).tickSize(3).tickPadding(3).tickFormat(p.fmt));
  ax.select(".domain").remove();
  ax.selectAll("line").attr("stroke", "#888");
  ax.selectAll("text").attr("font-size", 11).attr("font-family", "Liberation Sans, Arial, sans-serif")
    .attr("fill", d => id === "spx" && inCyan(p.y(d)) ? "#ff0000" : "#222")
    .attr("display", d => covered(id, p.y(d)) ? "none" : null);
});
const leftAx = L.append("g").attr("transform", `translate(${X0},0)`)
  .call(d3.axisLeft(tnxY).tickValues(tnxTicks).tickSize(0).tickPadding(4).tickFormat(d => d.toFixed(1)));
leftAx.select(".domain").remove();
leftAx.selectAll("text").attr("font-size", 11).attr("font-family", "Liberation Sans, Arial, sans-serif")
  .attr("fill", d => inCyan(tnxY(d)) ? "#ff0000" : "#222")
  .attr("display", d => leftCovered(tnxY(d)) ? "none" : null);

// month labels
const labelDays = monthStarts.map(d => dayOf(d) + 2);
[1123, 1585].forEach(yy => {
  const xa = L.append("g").attr("transform", `translate(0,${yy})`)
    .call(d3.axisBottom(x).tickValues(labelDays).tickSize(0).tickPadding(5).tickFormat((d, i) => monthLabels[i]));
  xa.select(".domain").remove();
  xa.selectAll("text").attr("font-size", 11.5).attr("font-family", "Liberation Sans, Arial, sans-serif").attr("fill", "#222")
    .attr("font-weight", (d, i) => /^\d/.test(monthLabels[i]) ? "bold" : "normal");
});

// fib notes
function fibNotes(pid, notes) {
  const y = panels[pid].y;
  L.append("g").selectAll("text").data(notes).join("text")
    .attr("x", d => x(d[0]) - 2).attr("y", d => y(d[1]) - 3).attr("text-anchor", "end")
    .attr("font-size", 11).attr("fill", "#7d9a7d").text(d => d[2]);
}
fibNotes("spx", spxFibNotes); fibNotes("macd", macdFibNotes);

// price notes
const pn = L.append("g").selectAll("g").data(priceNotes).join("g")
  .attr("transform", d => `translate(${x(d[0])},${spxY(d[1])})`);
pn.append("rect").attr("x", -16).attr("y", -6).attr("width", 32).attr("height", 12)
  .attr("fill", "#f4f4f4").attr("fill-opacity", 0.85).attr("stroke", "#9aa0a0").attr("stroke-width", 0.8);
pn.append("text").attr("text-anchor", "middle").attr("y", 4).attr("font-size", 10)
  .attr("fill", d => d[3] === "red" ? "#ff2020" : "#222").text(d => d[2]);

L.append("text").attr("x", x(255.7)).attr("y", spxY(1668.9) + 8).attr("text-anchor", "middle")
  .attr("font-size", 22).attr("fill", "#000").text("E");
L.append("text").attr("x", x(104.4)).attr("y", 1143).attr("text-anchor", "middle")
  .attr("font-size", 24).attr("fill", "#000").text("D");

// arrows
function arrowPath(kind) {
  if (kind.endsWith("Up")) return "M0,-9L7,-1L3.5,-1L3.5,9L-3.5,9L-3.5,-1L-7,-1Z";
  if (kind.endsWith("Down")) return "M0,9L7,1L3.5,1L3.5,-9L-3.5,-9L-3.5,1L-7,1Z";
  return "M-10,0L-2,-7L-2,-3.5L10,-3.5L10,3.5L-2,3.5L-2,7Z";
}
L.append("g").selectAll("path").data(arrowMarks).join("path")
  .attr("transform", d => `translate(${x(d[1])},${panels[d[0]].y(d[2])})`)
  .attr("d", d => arrowPath(d[3])).attr("fill", d => arrowColors[d[3]]);

// value tags: font shrinks so the tag always fits inside the picture
function tag(yPix, text, kind) {
  const g = L.append("g");
  const shape = g.append("path");
  const tx = X1 + 5, base = 10.5;
  const t = g.append("text").attr("x", tx).attr("y", yPix + 3.5).attr("font-size", base)
    .attr("font-weight", kind === "bold" ? "bold" : "normal").attr("fill", "#111").text(text);
  let w = t.node().getComputedTextLength();
  const maxW = W - 1.5 - tx - 2;
  if (w > maxW) {
    t.attr("font-size", (base * maxW / w).toFixed(2));
    w = t.node().getComputedTextLength();
  }
  const x1 = X1 + 3.5, x2 = tx + w + 1.5;
  shape.attr("d", `M${X1},${yPix}L${x1},${yPix - 7}L${x2},${yPix - 7}L${x2},${yPix + 7}L${x1},${yPix + 7}Z`)
    .attr("fill", "#fff").attr("stroke", tagColors[kind]).attr("stroke-width", 1);
}
valueTags.forEach(t => tag(panels[t[0]].y(t[1]), t[2], t[3]));
tag(usdY(usd[usd.length - 1]), "79.79", "brown");

// legends
function legend(x0, y0, parts, icon) {
  if (icon) L.append("rect").attr("x", x0).attr("y", y0 - 5).attr("width", 8).attr("height", 2.5).attr("fill", icon);
  const t = L.append("text").attr("x", x0 + (icon ? 11 : 0)).attr("y", y0).attr("font-size", 11);
  parts.forEach(p => t.append("tspan").attr("fill", p[1]).text(p[0]));
}
legend(42, 38, [["$SPXA50 369.00", "#111"]], "#111");
legend(42, 189, [["TRIX(15,9) 0.053, ", "#111"], ["0.012", "#c8642a"]], "#111");
legend(42, 337, [["$NYMO 42.33", "#111"]], "#111");
legend(42, 485, [["$BPNYA 68.93", "#111"]], "#111");
legend(42, 497, [["MA(10) 66.36", "#2a3c88"]], "#2a3c88");
legend(42, 636, [["$SPX (Daily) 1859.45", "#111"]], "#333");
legend(42, 647, [["MA(20) 1815.31", "#2b3a80"]], "#2b3a80");
legend(42, 657.5, [["MA(50) 1820.94", "#e82020"]], "#e82020");
legend(42, 668, [["MA(200) 1727.10", "#1e6b1e"]], "#1e6b1e");
legend(42, 678, [["BB(20,2.0) 1744.03 - 1815.31 - 1886.59", "#d4a800"]], "#d8c4b0");
legend(42, 687.5, [["$TNX 26.23", "#ff22ff"]], "#ff22ff");
legend(42, 697, [["$USD 79.79", "#a0522d"]], "#a0522d");
legend(42, 1148, [["RSI(14) 64.09", "#111"]], "#555");
legend(42, 1159, [["MA(25) 49.80", "#2a3c88"]], "#2a3c88");
legend(42, 1298, [["MACD(12,26,9) 12.677, ", "#111"], ["7.814, ", "#c8642a"], ["4.863", "#5f8f62"]], "#111");
legend(42, 1447, [["Slow STO %K(14) %D(3) 90.24, ", "#111"], ["89.78", "#d2702a"]], "#111");

// header
L.append("text").attr("x", 38).attr("y", 15).attr("font-size", 13.5).attr("font-weight", "bold").attr("fill", "#111").text("$SPX");
L.append("text").attr("x", 76).attr("y", 15).attr("font-size", 10.5).attr("fill", "#333").text("S&P 500 Large Cap Index");
L.append("text").attr("x", 206).attr("y", 15).attr("font-size", 10.5).attr("fill", "#333").text("INDX");
L.append("text").attr("x", 38).attr("y", 27).attr("font-size", 11).attr("fill", "#333").text("28-Feb-2014");
L.append("text").attr("x", 1131).attr("y", 13).attr("text-anchor", "end").attr("font-size", 11).attr("fill", "#555").text("\u00A9StockCharts.com");
const quote = L.append("text").attr("x", 1122).attr("y", 26).attr("text-anchor", "end").attr("font-size", 11.5).attr("fill", "#333");
[["Open ", 1], ["1855.12  ", 0], ["High ", 1], ["1867.92  ", 0], ["Low ", 1], ["1847.67  ", 0], ["Close ", 1],
 ["1859.45  ", 0], ["Volume ", 1], ["2.5B  ", 0], ["Chg ", 1], ["+5.16 (+0.28%)", 0]]
  .forEach(p => quote.append("tspan").attr("font-weight", p[1] ? "bold" : "normal").attr("fill", p[1] ? "#111" : "#444").text(p[0]));
L.append("path").attr("d", "M1125,24L1128.5,19L1132,24Z").attr("fill", "#2a8a2a");
</script>
</body>
</html>
